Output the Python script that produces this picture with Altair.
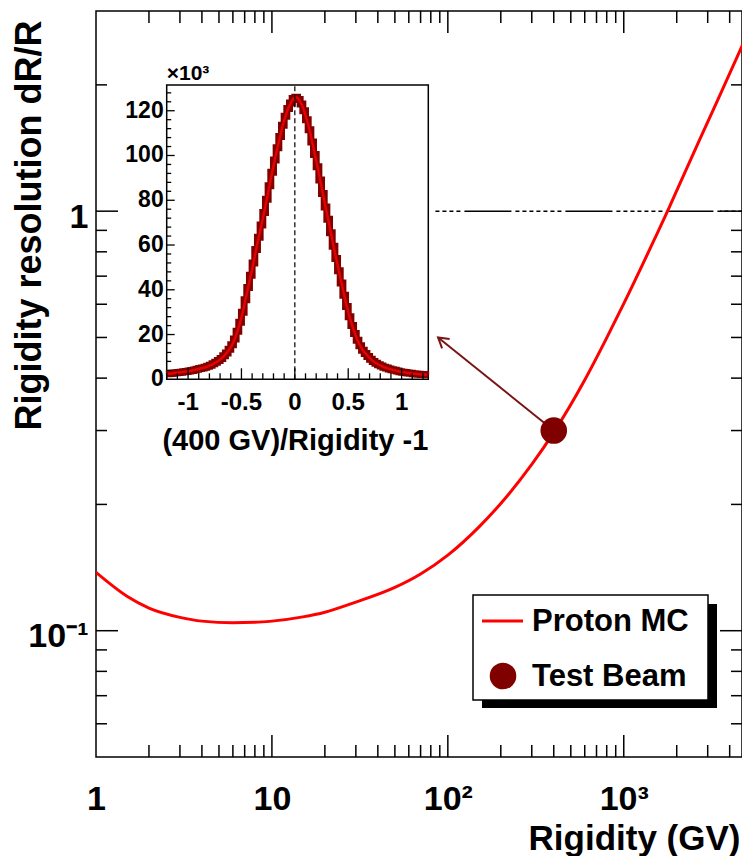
import altair as alt
import pandas as pd

# ---------------- data ----------------
# Proton MC rigidity resolution curve
mc_rigidity = [1, 1.5, 2, 3, 4, 6, 8, 10, 15, 20, 30, 50, 70, 100, 150, 200,
               300, 400, 600, 800, 1000, 1500, 1800, 2000, 2700, 3500, 5000]
mc_resolution = [0.1377, 0.1208, 0.1132, 0.1076, 0.1054, 0.1045, 0.1047, 0.1054,
                 0.1079, 0.1107, 0.117, 0.1268, 0.1365, 0.1514, 0.1766, 0.201,
                 0.249, 0.297, 0.396, 0.499, 0.602, 0.860, 1.014, 1.12, 1.48, 1.88, 2.62]

# Test beam point
beam_rigidity = [400]
beam_resolution = [0.30]

# Main axis labels
x_label_values = [1, 10, 100, 1000]
y_label_values = [0.1, 1]

# Inset histogram: (400 GV)/Rigidity - 1, counts in units of 10^3
inset_bin_low = -1.2
inset_bin_width = 0.025
inset_counts = [2.5, 2.6, 2.7, 2.9, 3.0, 3.2, 3.4, 3.5, 3.7, 3.9,
                4.2, 4.5, 4.8, 5.1, 5.4, 5.8, 6.3, 6.9, 7.6, 8.4,
                9.3, 10.5, 11.8, 13.4, 15.4, 18.0, 21.5, 25.5, 30.0, 35.5,
                41.0, 46.5, 52.0, 58.0, 63.5, 69.0, 74.5, 80.5, 86.5, 92.5,
                98.0, 103.5, 108.5, 113.5, 117.5, 121.0, 123.5, 125.5, 126.0, 125.0,
                123.0, 120.0, 116.0, 111.5, 106.0, 100.5, 95.0, 89.0, 83.0, 77.0,
                71.5, 65.5, 59.5, 54.0, 48.5, 43.0, 37.5, 32.5, 28.0, 24.0,
                20.5, 17.5, 15.0, 13.0, 11.5, 10.2, 9.0, 8.0, 7.2, 6.5,
                5.9, 5.4, 5.0, 4.6, 4.3, 4.0, 3.7, 3.4, 3.2, 3.0,
                2.8, 2.7, 2.5, 2.4, 2.3, 2.2, 2.1, 2.0]
inset_x_values = [-1, -0.5, 0, 0.5, 1]
inset_x_text = ["-1", "-0.5", "0", "0.5", "1"]
inset_y_values = [0, 20, 40, 60, 80, 100, 120]

legend_labels = ["Proton MC", "Test Beam"]

# annotations (data units)
unity_from, unity_to, unity_level = 85, 5000, 1.0
arrow_tip_rigidity, arrow_tip_resolution = 88, 0.50

# ---------------- styling / geometry ----------------
W, H = 646, 746
FONT = "Liberation Sans"
RED = "#ff0000"
MAROON = "#800000"
ARROW = "#7a1515"

one = pd.DataFrame({"k": [0]})

xs = alt.Scale(type="log", domain=[1, 4700], nice=False)
ys = alt.Scale(type="log", domain=[0.05, 3], nice=False)

ax_x = alt.Axis(values=x_label_values,
                labelExpr="datum.value < 5 ? '1' : datum.value < 50 ? '10' : datum.value < 500 ? '10²' : '10³'",
                labelFlush=False, labelOverlap=False, labelPadding=25,
                labelBaseline="top", labelAlign="center",
                title="Rigidity (GV)", titleX=W - 2, titleY=92, titleAlign="right",
                titleBaseline="alphabetic", titleAngle=0)
ax_y = alt.Axis(values=y_label_values,
                labelExpr="datum.value > 0.5 ? '1' : '10⁻¹'",
                labelOverlap=False, labelPadding=8, labelOffset=6,
                labelBaseline="middle", labelAlign="right",
                title="Rigidity resolution dR/R", titleX=-56, titleY=9,
                titleAlign="right", titleAngle=270, titleBaseline="alphabetic",
                titleFontSize=36)


def X(f):
    return alt.X(f"{f}:Q", scale=xs, axis=ax_x)


def Y(f):
    return alt.Y(f"{f}:Q", scale=ys, axis=ax_y)


df_mc = pd.DataFrame({"r": mc_rigidity, "res": mc_resolution})
df_beam = pd.DataFrame({"r": beam_rigidity, "res": beam_resolution})
df_unity = pd.DataFrame({"r": [unity_from], "r2": [unity_to], "res": [unity_level]})
df_arrow = pd.DataFrame({"r": [beam_rigidity[0]], "res": [beam_resolution[0]],
                         "r2": [arrow_tip_rigidity], "res2": [arrow_tip_resolution]})
df_tip = pd.DataFrame({"r": [arrow_tip_rigidity], "res": [arrow_tip_resolution]})

unity = alt.Chart(df_unity).mark_rule(
    color="black", strokeWidth=1.5, clip=True,
    strokeDash=[4, 3, 4, 3, 4, 3, 4, 3, 4, 3, 4, 3, 4, 4, 47, 4], strokeDashOffset=21
).encode(x=X("r"), x2="r2", y=Y("res"))

curve = alt.Chart(df_mc).mark_line(color=RED, strokeWidth=3, interpolate="monotone", clip=True).encode(
    x=X("r"), y=Y("res"))

arrow = alt.Chart(df_arrow).mark_rule(color=ARROW, strokeWidth=2).encode(
    x=X("r"), y=Y("res"), x2="r2", y2="res2")

tip = alt.Chart(df_tip).mark_point(shape="M-0.6,1L0,0L0.6,1", filled=False, strokeWidth=2,
                                   size=400, angle=309, color=ARROW, opacity=1).encode(
    x=X("r"), y=Y("res"))

beam = alt.Chart(df_beam).mark_point(shape="circle", filled=True, size=707, color=MAROON, opacity=1).encode(
    x=X("r"), y=Y("res"))

# main ticks (inward, ROOT style)
x_major = [10, 100, 1000]
x_minor = [m * 10 ** d for d in range(4) for m in range(2, 10) if m * 10 ** d < 4700]
y_major = [0.1, 1]
y_minor = [0.06, 0.07, 0.08, 0.09] + [m / 10 for m in range(2, 10)] + [2]

tick_layers = []
for vals, ln in ((x_major, 22), (x_minor, 12)):
    d = pd.DataFrame({"r": vals})
    tick_layers.append(alt.Chart(d).mark_rule(color="black", strokeWidth=1.5).encode(
        x=X("r"), y=alt.value(H), y2=alt.value(H - ln)))
    tick_layers.append(alt.Chart(d).mark_rule(color="black", strokeWidth=1.5).encode(
        x=X("r"), y=alt.value(0), y2=alt.value(ln)))
for vals, ln in ((y_major, 22), (y_minor, 11)):
    d = pd.DataFrame({"res": vals})
    tick_layers.append(alt.Chart(d).mark_rule(color="black", strokeWidth=1.5).encode(
        y=Y("res"), x=alt.value(0), x2=alt.value(ln)))
    tick_layers.append(alt.Chart(d).mark_rule(color="black", strokeWidth=1.5).encode(
        y=Y("res"), x=alt.value(W), x2=alt.value(W - ln)))

# legend
leg_shadow = alt.Chart(one).mark_rect(color="black").encode(
    x=alt.value(386), x2=alt.value(621), y=alt.value(593), y2=alt.value(697))
leg_box = alt.Chart(one).mark_rect(fill="white", stroke="black", strokeWidth=1.5).encode(
    x=alt.value(377), x2=alt.value(612), y=alt.value(584), y2=alt.value(689))
leg_line = alt.Chart(one).mark_rule(color=RED, strokeWidth=3).encode(
    x=alt.value(386), x2=alt.value(427), y=alt.value(610))
leg_dot = alt.Chart(one).mark_point(shape="circle", filled=True, size=707, color=MAROON, opacity=1).encode(
    x=alt.value(407), y=alt.value(665))
leg_t1 = alt.Chart(one).mark_text(font=FONT, fontWeight="bold", fontSize=31, align="left",
                                  baseline="middle", color="black").encode(
    x=alt.value(436), y=alt.value(611), text=alt.value(legend_labels[0]))
leg_t2 = alt.Chart(one).mark_text(font=FONT, fontWeight="bold", fontSize=31, align="left",
                                  baseline="middle", color="black").encode(
    x=alt.value(436), y=alt.value(666), text=alt.value(legend_labels[1]))

main = alt.layer(unity, curve, arrow, tip, beam, *tick_layers,
                 leg_shadow, leg_box, leg_line, leg_dot, leg_t1, leg_t2)

# ---------------- inset ----------------
IX0, IX1 = 70.7, 332.3
IY0, IY1 = 368.3, 74
xi = alt.Scale(domain=[-1.2, 1.25], range=[IX0, IX1], nice=False, zero=False)
yi = alt.Scale(domain=[0, 131.5], range=[IY0, IY1], nice=False, zero=False)


def XI(f):
    return alt.X(f"{f}:Q", scale=xi, axis=None)


def YI(f):
    return alt.Y(f"{f}:Q", scale=yi, axis=None)


n = len(inset_counts)
edges = [inset_bin_low + inset_bin_width * i for i in range(n + 1)]
centers = [inset_bin_low + inset_bin_width * (i + 0.5) for i in range(n)]
df_hist = pd.DataFrame({"x": edges, "c": inset_counts + [inset_counts[-1]]})
df_fit = pd.DataFrame({"x": centers, "c": inset_counts})
df_frame = pd.DataFrame({"x": [-1.2], "x2": [1.25], "y": [0], "y2": [131.5]})
df_zero = pd.DataFrame({"x": [0], "y": [0], "y2": [131.5]})

frame = alt.Chart(df_frame).mark_rect(fill="white", stroke="black", strokeWidth=1.5).encode(
    x=XI("x"), x2="x2", y=YI("y"), y2="y2")
hist = alt.Chart(df_hist).mark_line(interpolate="step-after", color=MAROON, strokeWidth=7).encode(
    x=XI("x"), y=YI("c"))
fit = alt.Chart(df_fit).mark_line(interpolate="monotone", color="#e60000", strokeWidth=2.5).encode(
    x=XI("x"), y=YI("c"))
zero = alt.Chart(df_zero).mark_rule(color="black", strokeWidth=1.2, strokeDash=[5, 3]).encode(
    x=XI("x"), y=YI("y"), y2="y2")

ix_ticks = [round(-1.2 + 0.1 * i, 2) for i in range(25)]
ix_major = [v for v in ix_ticks if abs(v * 2 - round(v * 2)) < 1e-6]
ix_minor = [v for v in ix_ticks if v not in ix_major]
iy_ticks = list(range(4, 132, 4))
iy_major = [v for v in iy_ticks if v % 20 == 0]
iy_minor = [v for v in iy_ticks if v % 20 != 0]

inset_ticks = []
for vals, ln in ((ix_major, 11), (ix_minor, 6)):
    inset_ticks.append(alt.Chart(pd.DataFrame({"x": vals})).mark_rule(color="black", strokeWidth=1.3).encode(
        x=XI("x"), y=alt.value(IY0), y2=alt.value(IY0 - ln)))
for vals, ln in ((iy_major, 8), (iy_minor, 4.5)):
    inset_ticks.append(alt.Chart(pd.DataFrame({"y": vals})).mark_rule(color="black", strokeWidth=1.3).encode(
        y=YI("y"), x=alt.value(IX0), x2=alt.value(IX0 + ln)))

ix_lab = alt.Chart(pd.DataFrame({"x": inset_x_values, "t": inset_x_text})).mark_text(
    font=FONT, fontWeight="bold", fontSize=24, align="center", baseline="middle", color="black").encode(
    x=XI("x"), y=alt.value(392), text="t:N")
iy_lab = alt.Chart(pd.DataFrame({"y": inset_y_values})).mark_text(
    font=FONT, fontWeight="bold", fontSize=23, align="right", baseline="middle", color="black").encode(
    y=YI("y"), x=alt.value(IX0 - 3), text="y:Q")
i_title = alt.Chart(one).mark_text(font=FONT, fontWeight="bold", fontSize=29, align="right",
                                   baseline="middle", color="black").encode(
    x=alt.value(IX1), y=alt.value(430), text=alt.value("(400 GV)/Rigidity -1"))
i_mult = alt.Chart(one).mark_text(font=FONT, fontWeight="bold", fontSize=21, align="left",
                                  baseline="middle", color="black").encode(
    x=alt.value(IX0), y=alt.value(63), text=alt.value("×10³"))

inset = alt.layer(frame, hist, fit, zero, *inset_ticks, ix_lab, iy_lab, i_title, i_mult)

chart = alt.layer(main, inset).resolve_scale(x="independent", y="independent").properties(
    width=W, height=H,
    padding={"left": 88, "top": 3, "right": 0, "bottom": 99},
    autosize=alt.AutoSizeParams(type="none"),
).configure_view(stroke="black", strokeWidth=1.5).configure_axis(
    labelFont=FONT, labelFontWeight="bold", labelFontSize=34, labelColor="black",
    titleFont=FONT, titleFontWeight="bold", titleFontSize=35, titleColor="black",
    ticks=False, domain=False, grid=False)

chart.save("out.html", embed_options={"renderer": "svg", "actions": False})
